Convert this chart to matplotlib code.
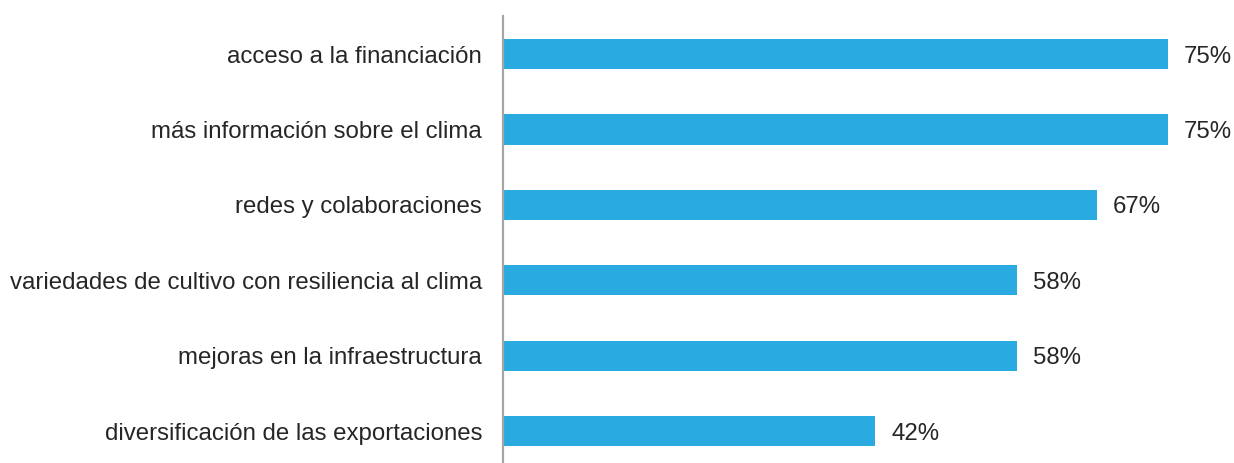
import matplotlib
matplotlib.use("Agg")
import matplotlib.pyplot as plt

categories = [
    "acceso a la financiación",
    "más información sobre el clima",
    "redes y colaboraciones",
    "variedades de cultivo con resiliencia al clima",
    "mejoras en la infraestructura",
    "diversificación de las exportaciones",
]
values = [75, 75, 67, 58, 58, 42]

plt.rcParams["font.family"] = ["Liberation Sans", "DejaVu Sans"]

W, H = 1234, 463
fig = plt.figure(figsize=(W / 100, H / 100), dpi=100)
ax = fig.add_axes([503 / W, 0.0, 1 - 503 / W, 1 - 16 / H])

y = list(range(len(categories)))
bars = ax.barh(y, values, height=0.4, color="#29ABE2", zorder=2)

ax.set_xlim(0, 82.5)
ax.set_ylim(5.42, -0.504)

for s in ["top", "right", "bottom"]:
    ax.spines[s].set_visible(False)
ax.spines["left"].set_color("#A6A6A6")
ax.spines["left"].set_linewidth(1.6)

ax.set_xticks([])
ax.set_yticks(y)
ax.set_yticklabels(categories, fontsize=17.3, color="#262626")
ax.tick_params(axis="y", length=0, pad=15)

for b, v in zip(bars, values):
    ax.annotate(f"{v}%", (b.get_width(), b.get_y() + b.get_height() / 2),
                xytext=(11.5, 0), textcoords="offset points",
                va="center_baseline", ha="left", fontsize=17.3, color="#262626")

fig.savefig("out.png", dpi=100)
